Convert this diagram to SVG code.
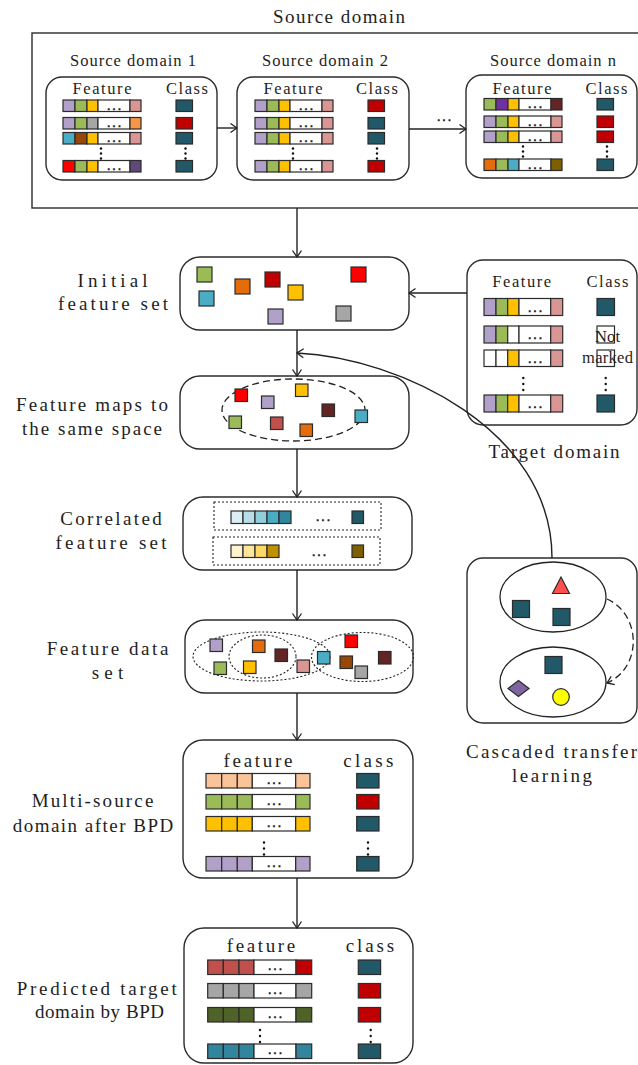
<svg xmlns="http://www.w3.org/2000/svg" width="638" height="1065" viewBox="0 0 638 1065">
<style>
.bg{fill:#fff}
.box{fill:#fff;stroke:#2b2b2b;stroke-width:1.4}
.frame{fill:none;stroke:#2b2b2b;stroke-width:1.4}
rect.c,polygon.c,circle.c{stroke:#2b2b2b;stroke-width:1.2}
.t{font-family:"Liberation Serif",serif;fill:#1e1e1e}
.lg{font-size:19px}
.sm{font-size:16.5px}
.mid{text-anchor:middle}
.dots{font-family:"Liberation Mono",monospace;font-weight:bold;font-size:9px;fill:#111;stroke:#111;stroke-width:0.5;text-anchor:middle}
.vd{fill:#111}
.conn{fill:none;stroke:#222;stroke-width:1.4}
.dash{fill:none;stroke:#222;stroke-width:1.3;stroke-dasharray:7 4}
.dot{fill:none;stroke:#222;stroke-width:1.1;stroke-dasharray:2 2}
.ell{fill:#fff;stroke:#222;stroke-width:1.3}
.pu{fill:#B1A0C7}.gr{fill:#9BBB59}.ye{fill:#FFC000}.pk{fill:#DA9694}.tl{fill:#215968}.rd{fill:#C00000}
.wh{fill:#fff}.ga{fill:#A6A6A6}.or{fill:#E46C0A}.ol{fill:#F79646}.cy{fill:#4BACC6}.br{fill:#974706}
.rr{fill:#FF0000}.dp{fill:#60497A}.vi{fill:#7030A0}.mr{fill:#632523}.ob{fill:#7F6000}.bk{fill:#C0504D}
.pe{fill:#F9C49A}.og{fill:#4F6228}.db{fill:#31859C}
</style>
<defs>
<marker id="arr" viewBox="-8 -6 9 12" markerWidth="9" markerHeight="12" refX="0" refY="0" orient="auto" markerUnits="userSpaceOnUse">
<path d="M-6.5,-4.5 L0,0 L-6.5,4.5" fill="none" stroke="#222" stroke-width="1.3"/>
</marker>
</defs>
<rect class="bg" x="0" y="0" width="638" height="1065"/>

<g id="source-domain">
<text class="t lg mid" x="339" y="23" textLength="132" lengthAdjust="spacing">Source domain</text>
<rect class="frame" x="32" y="33" width="620" height="175"/>
</g>

<g id="source-domain-1">
<text class="t sm mid" x="133" y="66" textLength="126" lengthAdjust="spacing">Source domain 1</text>
<rect class="box" x="46" y="77" width="171" height="103" rx="16"/>
<text class="t sm mid" x="102" y="94" textLength="59" lengthAdjust="spacing">Feature</text>
<text class="t sm mid" x="187" y="94" textLength="42" lengthAdjust="spacing">Class</text>
<rect class="c pu" x="63" y="100" width="12" height="11.5"/><rect class="c gr" x="75" y="100" width="12" height="11.5"/><rect class="c ye" x="87" y="100" width="11" height="11.5"/><rect class="c wh" x="98" y="100" width="32" height="11.5"/><rect class="c pk" x="130" y="100" width="11" height="11.5"/>
<text class="dots" x="114" y="109.5">...</text><rect class="c tl" x="176" y="100" width="16.5" height="11.5"/>
<rect class="c pu" x="63" y="117.5" width="12" height="11.5"/><rect class="c gr" x="75" y="117.5" width="12" height="11.5"/><rect class="c ga" x="87" y="117.5" width="11" height="11.5"/><rect class="c wh" x="98" y="117.5" width="32" height="11.5"/><rect class="c ol" x="130" y="117.5" width="11" height="11.5"/>
<text class="dots" x="114" y="127">...</text><rect class="c rd" x="176" y="117.5" width="16.5" height="11.5"/>
<rect class="c cy" x="63" y="132.5" width="12" height="11.5"/><rect class="c br" x="75" y="132.5" width="12" height="11.5"/><rect class="c ye" x="87" y="132.5" width="11" height="11.5"/><rect class="c wh" x="98" y="132.5" width="32" height="11.5"/><rect class="c pk" x="130" y="132.5" width="11" height="11.5"/>
<text class="dots" x="114" y="142">...</text><rect class="c tl" x="176" y="132.5" width="16.5" height="11.5"/>
<rect class="c rr" x="63" y="160.5" width="12" height="11.5"/><rect class="c gr" x="75" y="160.5" width="12" height="11.5"/><rect class="c ye" x="87" y="160.5" width="11" height="11.5"/><rect class="c wh" x="98" y="160.5" width="32" height="11.5"/><rect class="c dp" x="130" y="160.5" width="11" height="11.5"/>
<text class="dots" x="114" y="170">...</text><rect class="c tl" x="176" y="160.5" width="16.5" height="11.5"/>
<circle class="vd" cx="101" cy="148.5" r="1.2"/><circle class="vd" cx="101" cy="153.5" r="1.2"/><circle class="vd" cx="101" cy="158.5" r="1.2"/>
<circle class="vd" cx="185.5" cy="148.5" r="1.2"/><circle class="vd" cx="185.5" cy="153.5" r="1.2"/><circle class="vd" cx="185.5" cy="158.5" r="1.2"/>
</g>

<g id="source-domain-2">
<text class="t sm mid" x="325" y="66" textLength="126" lengthAdjust="spacing">Source domain 2</text>
<rect class="box" x="237" y="77" width="172" height="103" rx="16"/>
<text class="t sm mid" x="293" y="94" textLength="59" lengthAdjust="spacing">Feature</text>
<text class="t sm mid" x="377" y="94" textLength="42" lengthAdjust="spacing">Class</text>
<rect class="c pu" x="255" y="100" width="12" height="11.5"/><rect class="c gr" x="267" y="100" width="12" height="11.5"/><rect class="c ye" x="279" y="100" width="11" height="11.5"/><rect class="c wh" x="290" y="100" width="32" height="11.5"/><rect class="c pk" x="322" y="100" width="11" height="11.5"/>
<text class="dots" x="306" y="109.5">...</text><rect class="c rd" x="368" y="100" width="16.5" height="11.5"/>
<rect class="c pu" x="255" y="117.5" width="12" height="11.5"/><rect class="c gr" x="267" y="117.5" width="12" height="11.5"/><rect class="c ye" x="279" y="117.5" width="11" height="11.5"/><rect class="c wh" x="290" y="117.5" width="32" height="11.5"/><rect class="c pk" x="322" y="117.5" width="11" height="11.5"/>
<text class="dots" x="306" y="127">...</text><rect class="c tl" x="368" y="117.5" width="16.5" height="11.5"/>
<rect class="c pu" x="255" y="132.5" width="12" height="11.5"/><rect class="c gr" x="267" y="132.5" width="12" height="11.5"/><rect class="c ye" x="279" y="132.5" width="11" height="11.5"/><rect class="c wh" x="290" y="132.5" width="32" height="11.5"/><rect class="c pk" x="322" y="132.5" width="11" height="11.5"/>
<text class="dots" x="306" y="142">...</text><rect class="c tl" x="368" y="132.5" width="16.5" height="11.5"/>
<rect class="c pu" x="255" y="160.5" width="12" height="11.5"/><rect class="c gr" x="267" y="160.5" width="12" height="11.5"/><rect class="c ye" x="279" y="160.5" width="11" height="11.5"/><rect class="c wh" x="290" y="160.5" width="32" height="11.5"/><rect class="c pk" x="322" y="160.5" width="11" height="11.5"/>
<text class="dots" x="306" y="170">...</text><rect class="c rd" x="368" y="160.5" width="16.5" height="11.5"/>
<circle class="vd" cx="293" cy="148.5" r="1.2"/><circle class="vd" cx="293" cy="153.5" r="1.2"/><circle class="vd" cx="293" cy="158.5" r="1.2"/>
<circle class="vd" cx="377" cy="148.5" r="1.2"/><circle class="vd" cx="377" cy="153.5" r="1.2"/><circle class="vd" cx="377" cy="158.5" r="1.2"/>
</g>

<g id="source-domain-n">
<text class="t sm mid" x="553" y="66" textLength="126" lengthAdjust="spacing">Source domain n</text>
<rect class="box" x="466" y="75" width="171" height="103" rx="16"/>
<text class="t sm mid" x="522" y="94" textLength="59" lengthAdjust="spacing">Feature</text>
<text class="t sm mid" x="606.5" y="94" textLength="42" lengthAdjust="spacing">Class</text>
<rect class="c gr" x="484" y="98.5" width="12" height="11.5"/><rect class="c vi" x="496" y="98.5" width="12" height="11.5"/><rect class="c ye" x="508" y="98.5" width="11" height="11.5"/><rect class="c wh" x="519" y="98.5" width="32" height="11.5"/><rect class="c mr" x="551" y="98.5" width="11" height="11.5"/>
<text class="dots" x="535" y="108">...</text><rect class="c tl" x="597" y="98.5" width="16.5" height="11.5"/>
<rect class="c pu" x="484" y="116" width="12" height="11.5"/><rect class="c gr" x="496" y="116" width="12" height="11.5"/><rect class="c ye" x="508" y="116" width="11" height="11.5"/><rect class="c wh" x="519" y="116" width="32" height="11.5"/><rect class="c pk" x="551" y="116" width="11" height="11.5"/>
<text class="dots" x="535" y="125.5">...</text><rect class="c rd" x="597" y="116" width="16.5" height="11.5"/>
<rect class="c pu" x="484" y="131" width="12" height="11.5"/><rect class="c gr" x="496" y="131" width="12" height="11.5"/><rect class="c ye" x="508" y="131" width="11" height="11.5"/><rect class="c wh" x="519" y="131" width="32" height="11.5"/><rect class="c pk" x="551" y="131" width="11" height="11.5"/>
<text class="dots" x="535" y="140.5">...</text><rect class="c rd" x="597" y="131" width="16.5" height="11.5"/>
<rect class="c or" x="484" y="159" width="12" height="11.5"/><rect class="c gr" x="496" y="159" width="12" height="11.5"/><rect class="c cy" x="508" y="159" width="11" height="11.5"/><rect class="c wh" x="519" y="159" width="32" height="11.5"/><rect class="c ob" x="551" y="159" width="11" height="11.5"/>
<text class="dots" x="535" y="168.5">...</text><rect class="c tl" x="597" y="159" width="16.5" height="11.5"/>
<circle class="vd" cx="523" cy="146.5" r="1.2"/><circle class="vd" cx="523" cy="151.5" r="1.2"/><circle class="vd" cx="523" cy="156.5" r="1.2"/>
<circle class="vd" cx="607" cy="146.5" r="1.2"/><circle class="vd" cx="607" cy="151.5" r="1.2"/><circle class="vd" cx="607" cy="156.5" r="1.2"/>
</g>

<g id="initial-feature-set">
<text class="t lg mid" x="112.5" y="286.5" textLength="70" lengthAdjust="spacing">Initial</text>
<text class="t lg mid" x="113" y="310" textLength="110" lengthAdjust="spacing">feature set</text>
<rect class="box" x="180" y="257" width="229" height="73" rx="20"/>
<rect class="c gr" x="197" y="267" width="15" height="15"/>
<rect class="c cy" x="199" y="291" width="15" height="15"/>
<rect class="c or" x="235" y="279" width="15" height="15"/>
<rect class="c rd" x="265" y="272" width="15" height="15"/>
<rect class="c ye" x="288" y="285" width="15" height="15"/>
<rect class="c rr" x="351" y="267" width="15" height="15"/>
<rect class="c pu" x="268" y="309" width="15" height="15"/>
<rect class="c ga" x="336" y="306" width="15" height="15"/>
</g>

<g id="target-domain">
<rect class="box" x="467" y="260" width="170" height="165" rx="16"/>
<text class="t sm mid" x="521.7" y="286.5" textLength="59" lengthAdjust="spacing">Feature</text>
<text class="t sm mid" x="607.5" y="286.5" textLength="42" lengthAdjust="spacing">Class</text>
<rect class="c pu" x="484" y="298.5" width="12" height="17"/><rect class="c gr" x="496" y="298.5" width="11.7" height="17"/><rect class="c ye" x="507.7" y="298.5" width="11.3" height="17"/><rect class="c wh" x="519" y="298.5" width="31.7" height="17"/><rect class="c pk" x="550.7" y="298.5" width="12" height="17"/>
<text class="dots" x="535" y="311.5">...</text><rect class="c tl" x="597" y="298.5" width="17.5" height="17"/>
<rect class="c pu" x="484" y="326" width="12" height="17"/><rect class="c gr" x="496" y="326" width="11.7" height="17"/><rect class="c wh" x="507.7" y="326" width="11.3" height="17"/><rect class="c wh" x="519" y="326" width="31.7" height="17"/><rect class="c pk" x="550.7" y="326" width="12" height="17"/>
<text class="dots" x="535" y="339">...</text><rect class="c wh" x="597" y="326" width="17.5" height="17"/>
<rect class="c wh" x="484" y="350" width="12" height="16.5"/><rect class="c wh" x="496" y="350" width="11.7" height="16.5"/><rect class="c ye" x="507.7" y="350" width="11.3" height="16.5"/><rect class="c wh" x="519" y="350" width="31.7" height="16.5"/><rect class="c pk" x="550.7" y="350" width="12" height="16.5"/>
<text class="dots" x="535" y="363">...</text><rect class="c wh" x="597" y="350" width="17.5" height="16.5"/>
<rect class="c pu" x="484" y="395" width="12" height="17"/><rect class="c gr" x="496" y="395" width="11.7" height="17"/><rect class="c ye" x="507.7" y="395" width="11.3" height="17"/><rect class="c wh" x="519" y="395" width="31.7" height="17"/><rect class="c pk" x="550.7" y="395" width="12" height="17"/>
<text class="dots" x="535" y="408">...</text><rect class="c tl" x="597" y="395" width="17.5" height="17"/>
<text class="t sm mid" x="607.5" y="342" textLength="25" lengthAdjust="spacing">Not</text>
<text class="t sm mid" x="607.5" y="363" textLength="51" lengthAdjust="spacing">marked</text>
<circle class="vd" cx="523.3" cy="378" r="1.2"/><circle class="vd" cx="523.3" cy="384" r="1.2"/><circle class="vd" cx="523.3" cy="390" r="1.2"/>
<circle class="vd" cx="605.7" cy="378" r="1.2"/><circle class="vd" cx="605.7" cy="384" r="1.2"/><circle class="vd" cx="605.7" cy="390" r="1.2"/>
<text class="t lg mid" x="554" y="458" textLength="131" lengthAdjust="spacing">Target domain</text>
</g>

<g id="feature-maps">
<text class="t lg mid" x="92" y="410.5" textLength="152" lengthAdjust="spacing">Feature maps to</text>
<text class="t lg mid" x="92" y="434.5" textLength="140" lengthAdjust="spacing">the same space</text>
<rect class="box" x="180" y="376" width="229" height="73" rx="20"/>
<ellipse cx="293.5" cy="410" rx="71.5" ry="31" fill="none" stroke="#222" stroke-width="1.3" stroke-dasharray="7 4"/>
<rect class="c rr" x="235" y="389" width="12.5" height="12.5"/>
<rect class="c pu" x="261.5" y="396" width="12.5" height="12.5"/>
<rect class="c ye" x="295.5" y="384" width="12.5" height="12.5"/>
<rect class="c mr" x="322" y="404" width="12.5" height="12.5"/>
<rect class="c cy" x="355" y="410" width="12.5" height="12.5"/>
<rect class="c gr" x="229" y="416" width="12.5" height="12.5"/>
<rect class="c bk" x="270.5" y="417" width="12.5" height="12.5"/>
<rect class="c or" x="300" y="424" width="12.5" height="12.5"/>
</g>

<g id="correlated-feature-set">
<text class="t lg mid" x="111" y="525" textLength="101.7" lengthAdjust="spacing">Correlated</text>
<text class="t lg mid" x="111" y="548.5" textLength="111" lengthAdjust="spacing">feature set</text>
<rect class="box" x="183" y="497" width="229" height="73" rx="20"/>
<rect class="dot" x="214" y="502" width="167" height="28"/>
<rect class="dot" x="213" y="537" width="167" height="28"/>
<rect class="c" fill="#DAEEF3" x="231" y="511" width="12" height="12.5"/><rect class="c" fill="#B7DEE8" x="243" y="511" width="12" height="12.5"/><rect class="c" fill="#92CDDC" x="255" y="511" width="12" height="12.5"/><rect class="c" fill="#4BACC6" x="267" y="511" width="12" height="12.5"/><rect class="c" fill="#31859C" x="279" y="511" width="12" height="12.5"/>
<text class="dots" x="323" y="520.5">...</text>
<rect class="c tl" x="352" y="511" width="11.5" height="12.5"/>
<rect class="c" fill="#FFF2CC" x="231" y="545" width="12" height="12.5"/><rect class="c" fill="#FFE699" x="243" y="545" width="12" height="12.5"/><rect class="c" fill="#FFD966" x="255" y="545" width="12" height="12.5"/><rect class="c" fill="#BF9000" x="267" y="545" width="12" height="12.5"/>
<text class="dots" x="319" y="555.5">...</text>
<rect class="c ob" x="352" y="545" width="11.5" height="12.5"/>
</g>

<g id="feature-data-set">
<text class="t lg mid" x="107.5" y="655" textLength="121.7" lengthAdjust="spacing">Feature data</text>
<text class="t lg mid" x="107.5" y="678.5" textLength="31.7" lengthAdjust="spacing">set</text>
<rect class="box" x="185" y="620" width="228" height="73" rx="20"/>
<ellipse class="dot" cx="261.5" cy="656.5" rx="68.5" ry="24.5"/>
<ellipse class="dot" cx="262.5" cy="656.5" rx="33.5" ry="21.5"/>
<ellipse class="dot" cx="362.5" cy="657" rx="51" ry="24.5"/>
<rect class="c pu" x="210" y="639" width="12.5" height="12.5"/>
<rect class="c gr" x="214" y="662" width="12.5" height="12.5"/>
<rect class="c or" x="252.5" y="640" width="12.5" height="12.5"/>
<rect class="c ye" x="243.5" y="661" width="12.5" height="12.5"/>
<rect class="c mr" x="275" y="649" width="12.5" height="12.5"/>
<rect class="c pk" x="297" y="660" width="12.5" height="12.5"/>
<rect class="c cy" x="317.5" y="651.5" width="12.5" height="12.5"/>
<rect class="c rr" x="345" y="635" width="12.5" height="12.5"/>
<rect class="c br" x="340" y="656" width="12.5" height="12.5"/>
<rect class="c ga" x="355" y="666" width="12.5" height="12.5"/>
<rect class="c mr" x="378.5" y="651.5" width="12.5" height="12.5"/>
</g>

<g id="cascaded-transfer-learning">
<rect class="box" x="467" y="558" width="170" height="165" rx="16"/>
<ellipse class="ell" cx="553" cy="597" rx="53" ry="35"/>
<ellipse class="ell" cx="553" cy="682" rx="53" ry="35"/>
<polygon class="c" fill="#FF5050" points="561,577 552.5,593.5 569.5,593.5"/>
<rect class="c tl" x="512.5" y="600.5" width="17" height="17"/>
<rect class="c tl" x="553" y="608.5" width="17" height="17"/>
<rect class="c tl" x="545" y="656.5" width="17" height="17"/>
<polygon class="c" fill="#8064A2" points="518.5,680.5 529,688.5 518.5,696.5 508,688.5"/>
<circle class="c" fill="#FFFF00" cx="561" cy="697" r="8.3"/>
<text class="t lg" x="466" y="758" textLength="171" lengthAdjust="spacing">Cascaded transfer</text>
<text class="t lg mid" x="552" y="782" textLength="80" lengthAdjust="spacing">learning</text>
</g>

<g id="multi-source-after-bpd">
<text class="t lg mid" x="92.5" y="807" textLength="121.7" lengthAdjust="spacing">Multi-source</text>
<text class="t lg mid" x="93" y="831.5" textLength="160.7" lengthAdjust="spacing">domain after BPD</text>
<rect class="box" x="183" y="740" width="230" height="138" rx="20"/>
<text class="t lg mid" x="258" y="767" textLength="69" lengthAdjust="spacing">feature</text>
<text class="t lg mid" x="368.3" y="767" textLength="50" lengthAdjust="spacing">class</text>
<rect class="c pe" x="206" y="773.5" width="15.7" height="14.5"/><rect class="c pe" x="221.7" y="773.5" width="15.6" height="14.5"/><rect class="c pe" x="237.3" y="773.5" width="15" height="14.5"/><rect class="c wh" x="252.3" y="773.5" width="43.4" height="14.5"/><rect class="c pe" x="295.7" y="773.5" width="14.3" height="14.5"/>
<text class="dots" x="274" y="783.5">...</text><rect class="c tl" x="356.7" y="773.5" width="22.3" height="14.5"/>
<rect class="c gr" x="206" y="794.5" width="15.7" height="14.5"/><rect class="c gr" x="221.7" y="794.5" width="15.6" height="14.5"/><rect class="c gr" x="237.3" y="794.5" width="15" height="14.5"/><rect class="c wh" x="252.3" y="794.5" width="43.4" height="14.5"/><rect class="c gr" x="295.7" y="794.5" width="14.3" height="14.5"/>
<text class="dots" x="274" y="804.5">...</text><rect class="c rd" x="356.7" y="794.5" width="22.3" height="14.5"/>
<rect class="c ye" x="206" y="816.5" width="15.7" height="14.5"/><rect class="c ye" x="221.7" y="816.5" width="15.6" height="14.5"/><rect class="c ye" x="237.3" y="816.5" width="15" height="14.5"/><rect class="c wh" x="252.3" y="816.5" width="43.4" height="14.5"/><rect class="c ye" x="295.7" y="816.5" width="14.3" height="14.5"/>
<text class="dots" x="274" y="826.5">...</text><rect class="c tl" x="356.7" y="816.5" width="22.3" height="14.5"/>
<rect class="c pu" x="206" y="856.5" width="15.7" height="14.5"/><rect class="c pu" x="221.7" y="856.5" width="15.6" height="14.5"/><rect class="c pu" x="237.3" y="856.5" width="15" height="14.5"/><rect class="c wh" x="252.3" y="856.5" width="43.4" height="14.5"/><rect class="c pu" x="295.7" y="856.5" width="14.3" height="14.5"/>
<text class="dots" x="274" y="866.5">...</text><rect class="c tl" x="356.7" y="856.5" width="22.3" height="14.5"/>
<circle class="vd" cx="264" cy="842.5" r="1.2"/><circle class="vd" cx="264" cy="848.5" r="1.2"/><circle class="vd" cx="264" cy="854.5" r="1.2"/>
<circle class="vd" cx="368" cy="842.5" r="1.2"/><circle class="vd" cx="368" cy="848.5" r="1.2"/><circle class="vd" cx="368" cy="854.5" r="1.2"/>
</g>

<g id="predicted-target-by-bpd">
<text class="t lg mid" x="96.7" y="995" textLength="160" lengthAdjust="spacing">Predicted target</text>
<text class="t lg mid" x="99.5" y="1018" textLength="129" lengthAdjust="spacing">domain by BPD</text>
<rect class="box" x="184" y="928" width="229" height="135" rx="20"/>
<text class="t lg mid" x="261" y="952" textLength="68.3" lengthAdjust="spacing">feature</text>
<text class="t lg mid" x="370" y="952" textLength="48.3" lengthAdjust="spacing">class</text>
<rect class="c bk" x="207.7" y="960" width="15.6" height="14.5"/><rect class="c bk" x="223.3" y="960" width="15.7" height="14.5"/><rect class="c bk" x="239" y="960" width="15" height="14.5"/><rect class="c wh" x="254" y="960" width="42" height="14.5"/><rect class="c rd" x="296" y="960" width="15.7" height="14.5"/>
<text class="dots" x="275" y="970">...</text><rect class="c tl" x="358.3" y="960" width="22.3" height="14.5"/>
<rect class="c ga" x="207.7" y="983.5" width="15.6" height="14.5"/><rect class="c ga" x="223.3" y="983.5" width="15.7" height="14.5"/><rect class="c ga" x="239" y="983.5" width="15" height="14.5"/><rect class="c wh" x="254" y="983.5" width="42" height="14.5"/><rect class="c ga" x="296" y="983.5" width="15.7" height="14.5"/>
<text class="dots" x="275" y="993.5">...</text><rect class="c rd" x="358.3" y="983.5" width="22.3" height="14.5"/>
<rect class="c og" x="207.7" y="1007.5" width="15.6" height="14.5"/><rect class="c og" x="223.3" y="1007.5" width="15.7" height="14.5"/><rect class="c og" x="239" y="1007.5" width="15" height="14.5"/><rect class="c wh" x="254" y="1007.5" width="42" height="14.5"/><rect class="c og" x="296" y="1007.5" width="15.7" height="14.5"/>
<text class="dots" x="275" y="1017.5">...</text><rect class="c rd" x="358.3" y="1007.5" width="22.3" height="14.5"/>
<rect class="c db" x="207.7" y="1044" width="15.6" height="14.5"/><rect class="c db" x="223.3" y="1044" width="15.7" height="14.5"/><rect class="c db" x="239" y="1044" width="15" height="14.5"/><rect class="c wh" x="254" y="1044" width="42" height="14.5"/><rect class="c db" x="296" y="1044" width="15.7" height="14.5"/>
<text class="dots" x="275" y="1054">...</text><rect class="c tl" x="358.3" y="1044" width="22.3" height="14.5"/>
<circle class="vd" cx="260" cy="1030" r="1.2"/><circle class="vd" cx="260" cy="1036" r="1.2"/><circle class="vd" cx="260" cy="1042" r="1.2"/>
<circle class="vd" cx="370.7" cy="1030" r="1.2"/><circle class="vd" cx="370.7" cy="1036" r="1.2"/><circle class="vd" cx="370.7" cy="1042" r="1.2"/>
</g>

<g id="connectors">
<line class="conn" x1="217" y1="128" x2="237" y2="128" marker-end="url(#arr)"/>
<line class="conn" x1="409" y1="129" x2="466" y2="129" marker-end="url(#arr)"/>
<text class="dots" x="444" y="121">...</text>
<line class="conn" x1="297" y1="208" x2="297" y2="257" marker-end="url(#arr)"/>
<line class="conn" x1="467" y1="293" x2="409" y2="293" marker-end="url(#arr)"/>
<line class="conn" x1="297" y1="330" x2="297" y2="376" marker-end="url(#arr)"/>
<path class="conn" d="M552,558 C552,430 400,358 297,353" marker-end="url(#arr)"/>
<line class="conn" x1="297" y1="449" x2="297" y2="497" marker-end="url(#arr)"/>
<line class="conn" x1="297" y1="570" x2="297" y2="620" marker-end="url(#arr)"/>
<line class="conn" x1="297" y1="693" x2="297" y2="740" marker-end="url(#arr)"/>
<line class="conn" x1="297" y1="878" x2="297" y2="928" marker-end="url(#arr)"/>
<path class="dash" d="M607,599 C642,615 642,668 607,683" marker-end="url(#arr)"/>
</g>
</svg>
